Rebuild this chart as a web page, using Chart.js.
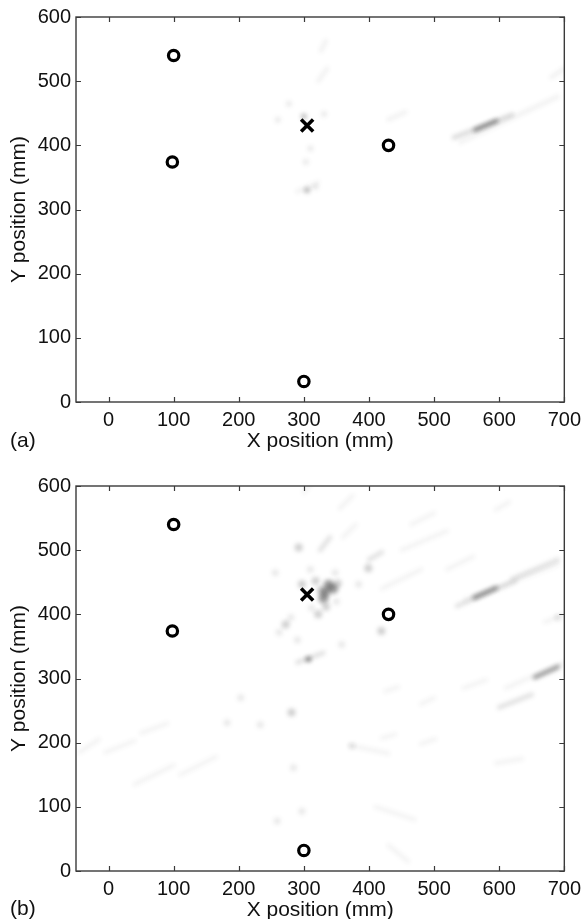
<!DOCTYPE html>
<html>
<head>
<meta charset="utf-8">
<script src="https://cdn.jsdelivr.net/npm/chart.js@4/dist/chart.umd.min.js"></script>
<style>
  html, body { margin:0; padding:0; background:#fff; overflow:hidden; width:587px; height:919px; }
  .panel { position:absolute; left:0; width:587px; height:460px; }
  .lab { position:absolute; left:10px; font:21px "Liberation Sans", Arial, sans-serif; line-height:24px; color:#111; }
</style>
</head>
<body>
<div class="panel" style="top:0px"><canvas id="ca" width="587" height="460"></canvas></div>
<div class="panel" style="top:469px"><canvas id="cb" width="587" height="460"></canvas></div>
<div class="lab" style="top:428px">(a)</div>
<div class="lab" style="top:896px">(b)</div>
<script>
// ---- axis ticks ----
const xTicks = [0, 100, 200, 300, 400, 500, 600, 700];
const yTicks = [0, 100, 200, 300, 400, 500, 600];

// ---- sensor (circle) and source (cross) positions, mm ----
const sensorX = [100, 98, 430, 300];
const sensorY = [540, 374, 400, 32];
const sourceX = [305];
const sourceY = [431];

// ---- image intensity features, panel (a): streaks [x1,y1,x2,y2] grouped by grey level ----
const streakA_faint  = [[540,405,690,476],[680,506,700,520],[322,500,336,520],[326,547,334,563],[430,440,456,452],[290,328,322,342]];
const streakA_medium = [[530,412,620,448]];
const streakA_dark   = [[563,424,596,438]];
// spots [x,y] grouped by grey level
const spotA_faint  = [[331,449],[277,465],[303,374],[310,395],[260,440],[318,335]];
const spotA_medium = [[300,445],[305,330]];

// ---- panel (b) ----
const streakB_faint  = [[547,423,690,478],[610,285,700,325],[670,388,700,400],[595,168,635,175],[545,285,580,298],
                        [480,260,500,270],[480,198,502,206],[425,280,445,287],[420,207,440,213],[430,40,460,15],
                        [-45,185,-15,205],[-5,185,40,203],[40,135,100,165],[110,150,165,178],[50,215,90,230],
                        [355,565,375,585],[465,540,500,558],[595,563,615,575],[420,440,480,470],[450,500,520,530],
                        [520,470,560,490],[300,590,315,610],[360,520,380,540],[370,196,430,183],[410,100,470,80]];
const streakB_light  = [[535,413,625,452],[620,455,690,485],[600,255,650,275],
                        [325,500,340,520],[400,485,420,497],[290,325,330,340]];
const streakB_dark   = [[562,426,595,441],[655,302,690,318]];
const spotB_faint  = [[256,465],[384,447],[348,465],[358,353],[182,231],[233,228],[203,270],[284,161],[297,93],
                      [259,78],[690,395],[280,395],[262,372],[310,470],[290,360],[374,195],[312,410],[350,420]];
const spotB_medium = [[297,447],[272,384],[292,504],[399,472],[322,400],[419,374],[281,247],[326,437],[334,412],
                      [352,448],[318,452]];
const spotB_dark   = [[338,446],[330,425],[345,440],[333,435]];
const spotB_dot    = [[307,330]];

const FONT = '"Liberation Sans", Arial, Helvetica, sans-serif';

function segData(segs) {
  const out = [];
  segs.forEach(s => { out.push({x:s[0], y:s[1]}, {x:s[2], y:s[3]}, {x:s[2], y:null}); });
  return out;
}
function ptData(pts) { return pts.map(p => ({x:p[0], y:p[1]})); }
function xyData(xs, ys) { return xs.map((x, i) => ({x, y: ys[i]})); }

function streakSet(segs, alpha, width) {
  return { blob:true, data: segData(segs), showLine:true, pointRadius:0, borderWidth:width,
           borderColor:`rgba(40,40,40,${alpha})`, borderCapStyle:'round', spanGaps:false, clip:0 };
}
function spotSet(pts, alpha, r) {
  return { blob:true, data: ptData(pts), pointRadius:r, pointStyle:'circle', borderWidth:0,
           backgroundColor:`rgba(40,40,40,${alpha})`, clip:0 };
}

const framePlugin = {
  id:'frame',
  beforeDatasetDraw(chart, args) {
    if (chart.data.datasets[args.index].blob) { chart.ctx.save(); chart.ctx.filter = 'blur(2px)'; }
  },
  afterDatasetDraw(chart, args) {
    if (chart.data.datasets[args.index].blob) { chart.ctx.restore(); }
  },
  afterDraw(chart) {
    const {ctx, chartArea:a, scales:{x, y}} = chart;
    ctx.save();
    ctx.strokeStyle = '#3a3a3a';
    ctx.lineWidth = 1.4;
    ctx.strokeRect(a.left, a.top, a.right - a.left, a.bottom - a.top);
    ctx.lineWidth = 1.2;
    const L = 5;
    ctx.beginPath();
    xTicks.forEach(v => {
      const px = Math.round(x.getPixelForValue(v)) + 0.5;
      ctx.moveTo(px, a.bottom); ctx.lineTo(px, a.bottom - L);
      ctx.moveTo(px, a.top); ctx.lineTo(px, a.top + L);
    });
    yTicks.forEach(v => {
      const py = Math.round(y.getPixelForValue(v)) + 0.5;
      ctx.moveTo(a.left, py); ctx.lineTo(a.left + L, py);
      ctx.moveTo(a.right, py); ctx.lineTo(a.right - L, py);
    });
    ctx.stroke();
    ctx.restore();
  }
};

function makeChart(id, blobSets) {
  const datasets = [
    { data: xyData(sourceX, sourceY), pointStyle:'crossRot', pointRadius:8.5, borderWidth:3.6,
      borderColor:'#000', backgroundColor:'#000', showLine:false, order:0 },
    { data: xyData(sensorX, sensorY), pointStyle:'circle', pointRadius:5.2, borderWidth:3.2,
      borderColor:'#000', backgroundColor:'rgba(0,0,0,0)', showLine:false, order:0 },
  ].concat(blobSets.map(s => Object.assign(s, {order:1})));
  return new Chart(document.getElementById(id), {
    type:'scatter',
    data:{ datasets },
    options:{
      responsive:false, animation:false,
      layout:{ padding:{ top:16, right:21, left:0, bottom:0 } },
      plugins:{ legend:{display:false}, tooltip:{enabled:false} },
      scales:{
        x:{ type:'linear', min:-50, max:700,
            afterBuildTicks:s => { s.ticks = xTicks.map(v => ({value:v})); },
            afterFit:s => { s.height = 58; },
            grid:{display:false, drawTicks:false}, border:{display:false},
            ticks:{ autoSkip:false, maxRotation:0, padding:6, color:'#111', font:{family:FONT, size:20} },
            title:{ display:true, text:'X position (mm)', color:'#111', font:{family:FONT, size:21},
                    padding:{top:0, bottom:6} } },
        y:{ type:'linear', min:0, max:600,
            afterBuildTicks:s => { s.ticks = yTicks.map(v => ({value:v})); },
            afterFit:s => { s.width = 76; },
            grid:{display:false, drawTicks:false}, border:{display:false},
            ticks:{ autoSkip:false, padding:5, color:'#111', font:{family:FONT, size:20} },
            title:{ display:true, text:'Y position (mm)', color:'#111', font:{family:FONT, size:21},
                    padding:{top:7, bottom:0} } }
      }
    },
    plugins:[framePlugin]
  });
}

makeChart('ca', [
  streakSet(streakA_faint, 0.07, 4),
  streakSet(streakA_medium, 0.18, 4),
  streakSet(streakA_dark, 0.5, 4),
  spotSet(spotA_faint, 0.1, 3),
  spotSet(spotA_medium, 0.3, 3),
]);
makeChart('cb', [
  streakSet(streakB_faint, 0.06, 4),
  streakSet(streakB_light, 0.14, 4.5),
  streakSet(streakB_dark, 0.45, 4.5),
  spotSet(spotB_faint, 0.1, 3.5),
  spotSet(spotB_medium, 0.22, 4),
  spotSet(spotB_dark, 0.45, 5),
  spotSet(spotB_dot, 0.55, 2.8),
]);
</script>
</body>
</html>
